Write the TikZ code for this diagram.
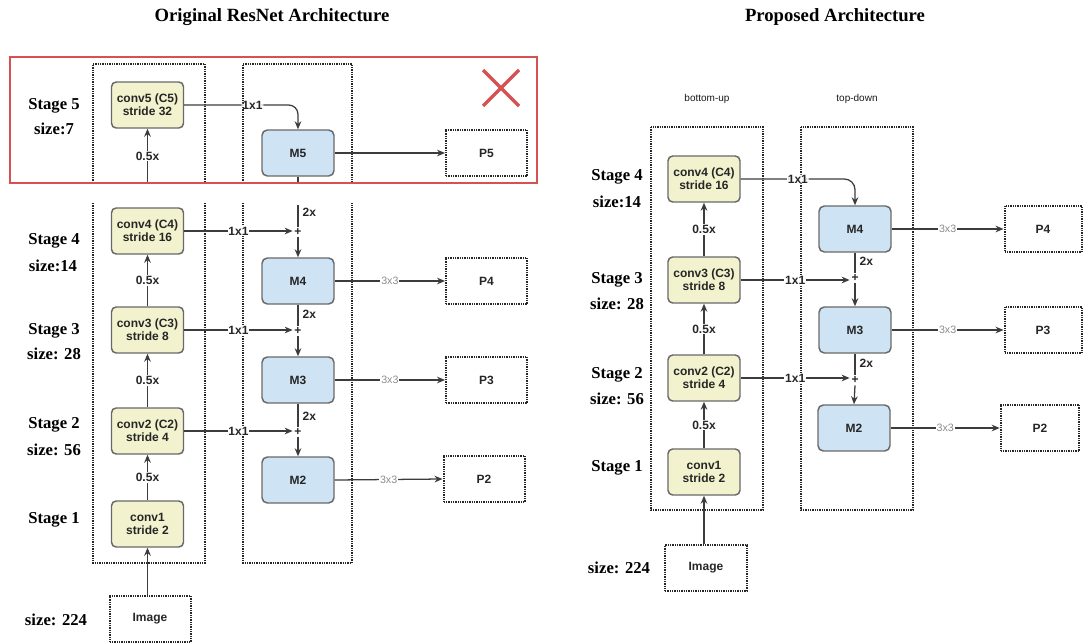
\documentclass[tikz,border=0pt]{standalone}
\usepackage{fontspec}
\setmainfont{Liberation Serif}
\setsansfont{Liberation Sans}
\usetikzlibrary{arrows.meta}
\definecolor{convfill}{RGB}{242,242,206}
\definecolor{mfill}{RGB}{206,227,244}
\definecolor{boxline}{RGB}{105,105,105}
\definecolor{wire}{RGB}{60,60,60}
\definecolor{crossred}{RGB}{214,82,82}
\definecolor{lightlbl}{RGB}{140,140,140}
\begin{document}
\begin{tikzpicture}[x=0.75pt,y=-0.75pt,
  conv/.style={draw=boxline, fill=convfill, rounded corners=3.5pt, line width=1.1pt,
    minimum width=54pt, minimum height=34.5pt, inner sep=1pt, align=center,
    font=\sffamily\bfseries\fontsize{9}{10}\selectfont, text=black!85},
  mbox/.style={draw=boxline, fill=mfill, rounded corners=4pt, line width=1.1pt,
    minimum width=54pt, minimum height=34.5pt, inner sep=1pt,
    font=\sffamily\bfseries\fontsize{9}{10}\selectfont, text=black!85},
  dotbox/.style={draw=black!85, line width=1.5pt, dash pattern=on 1pt off 0.75pt,
    minimum height=35pt, inner sep=1pt,
    font=\sffamily\bfseries\fontsize{9}{10}\selectfont, text=black!85},
  colbox/.style={draw=black!85, line width=1.5pt, dash pattern=on 1pt off 0.75pt},
  wirearrow/.style={draw=wire, line width=0.95pt, -{Stealth[length=6pt,width=5pt]}},
  plainwire/.style={draw=wire, line width=0.95pt},
  lbl/.style={fill=white, inner sep=0.6pt, text=black!85,
    font=\sffamily\bfseries\fontsize{9}{10}\selectfont},
  graylbl/.style={fill=white, inner sep=0.6pt, text=lightlbl,
    font=\sffamily\fontsize{8}{9}\selectfont},
  uplbl/.style={right, inner sep=3pt, text=black!85,
    font=\sffamily\bfseries\fontsize{9}{10}\selectfont},
  plus/.style={inner sep=1.2pt, text=black!85, font=\sffamily\bfseries\fontsize{9}{9}\selectfont},
  stagelbl/.style={font=\rmfamily\bfseries\fontsize{12.5}{14}\selectfont},
  sizelbl/.style={font=\rmfamily\bfseries\fontsize{12.5}{14}\selectfont},
  titlelbl/.style={font=\rmfamily\bfseries\fontsize{14}{16}\selectfont},
  headlbl/.style={font=\sffamily\fontsize{7.5}{9}\selectfont, text=black!90}
]
\useasboundingbox (0,0) rectangle (1083,643);

% ---------- titles ----------
\node[titlelbl] (t1) at (272,17) {Original ResNet Architecture};
\node[titlelbl] (t2) at (835,17) {Proposed Architecture};

% ================= left: original ResNet =================
% column frames, interrupted below the stage-5 band
\draw[colbox] (93,183) -- (93,64) -- (205,64) -- (205,183);
\draw[colbox] (93,203) -- (93,563) -- (205,563) -- (205,203);
\draw[colbox] (243,183) -- (243,64) -- (352,64) -- (352,183);
\draw[colbox] (243,203) -- (243,563) -- (352,563) -- (352,203);

% stage labels
\node[stagelbl] (ls5) at (54,106) {Stage 5};
\node[sizelbl]  (lz5) at (54,129) {size:7};
\node[stagelbl] (ls4) at (54,241) {Stage 4};
\node[sizelbl]  (lz4) at (53,266) {size:14};
\node[stagelbl] (ls3) at (54,331) {Stage 3};
\node[sizelbl]  (lz3) at (54,354) {size: 28};
\node[stagelbl] (ls2) at (54,425) {Stage 2};
\node[sizelbl]  (lz2) at (54,450) {size: 56};
\node[stagelbl] (ls1) at (54,520) {Stage 1};
\node[sizelbl]  (lz0) at (56,620) {size: 224};

% bottom-up blocks
\node[conv] (L5) at (147.5,105) {conv5 (C5)\\stride 32};
\node[conv] (L4) at (147.5,231) {conv4 (C4)\\stride 16};
\node[conv] (L3) at (147.5,330) {conv3 (C3)\\stride 8};
\node[conv] (L2) at (147.5,431) {conv2 (C2)\\stride 4};
\node[conv] (L1) at (147.5,524) {conv1\\stride 2};
\node[dotbox, minimum width=60.75pt] (Limg) at (150,619) {Image};

% top-down blocks
\node[mbox] (LM5) at (298,153) {M5};
\node[mbox] (LM4) at (298,281) {M4};
\node[mbox] (LM3) at (298,380) {M3};
\node[mbox] (LM2) at (298,480) {M2};
\node[plus] (Lp4) at (298,232) {+};
\node[plus] (Lp3) at (298,331) {+};
\node[plus] (Lp2) at (298,432) {+};

% outputs
\node[dotbox, minimum width=60.75pt] (LP5) at (486.5,153) {P5};
\node[dotbox, minimum width=60.75pt] (LP4) at (486.5,281) {P4};
\node[dotbox, minimum width=60.75pt] (LP3) at (486.5,380) {P3};
\node[dotbox, minimum width=60.75pt] (LP2) at (484,479) {P2};

% free ends at the band edges
\coordinate (Lcut5) at (147.5,183);
\coordinate (Lcutm) at (298,183);
\coordinate (Ltopm) at (298,205);

% bottom-up path
\draw[wirearrow] (Limg.north -| L1.south) -- (L1.south);
\draw[wirearrow] (L1.north) -- node[lbl] {0.5x} (L2.south);
\draw[wirearrow] (L2.north) -- node[lbl] {0.5x} (L3.south);
\draw[wirearrow] (L3.north) -- node[lbl] {0.5x} (L4.south);
\draw[wirearrow] (Lcut5) -- node[lbl] {0.5x} (L5.south);

% lateral 1x1 connections
\draw[wirearrow, rounded corners=7pt] (L5.east) -- node[lbl, pos=0.6] {1x1} (LM5.north |- L5.east) -- (LM5.north);
\draw[wirearrow] (L4.east) -- node[lbl] {1x1} (L4.east -| Lp4.west);
\draw[wirearrow] (L3.east) -- node[lbl] {1x1} (L3.east -| Lp3.west);
\draw[wirearrow] (L2.east) -- node[lbl] {1x1} (L2.east -| Lp2.west);

% top-down 2x upsampling
\draw[plainwire] (LM5.south) -- (Lcutm);
\draw[plainwire] (Ltopm) -- node[uplbl, pos=0.35] {2x} (Lp4.north);
\draw[wirearrow] (Lp4.south) -- (LM4.north);
\draw[plainwire] (LM4.south) -- node[uplbl, pos=0.45] {2x} (Lp3.north);
\draw[wirearrow] (Lp3.south) -- (LM3.north);
\draw[plainwire] (LM3.south) -- node[uplbl, pos=0.55] {2x} (Lp2.north);
\draw[wirearrow] (Lp2.south) -- (LM2.north);

% 3x3 output convolutions
\draw[wirearrow] (LM5.east) -- (LP5.west);
\draw[wirearrow] (LM4.east) -- node[graylbl] {3x3} (LP4.west);
\draw[wirearrow] (LM3.east) -- node[graylbl] {3x3} (LP3.west);
\draw[wirearrow] (LM2.east) -- node[graylbl] {3x3} (LP2.west);

% stage 5 is struck out
\draw[crossred, line width=1.6pt] (10,57) rectangle (537,183);
\draw[crossred, line width=2.4pt] (483,70) -- (519,106);
\draw[crossred, line width=2.4pt] (483,106) -- (519,70);

% ================= right: proposed =================
\node[headlbl] (hbu) at (707,99) {bottom-up};
\node[headlbl] (htd) at (857,99) {top-down};
\draw[colbox] (651,127) rectangle (763,510);
\draw[colbox] (801,127) rectangle (913,510);

\node[stagelbl] (rs4) at (617,177) {Stage 4};
\node[sizelbl]  (rz4) at (617,202) {size:14};
\node[stagelbl] (rs3) at (617,280) {Stage 3};
\node[sizelbl]  (rz3) at (617,304) {size: 28};
\node[stagelbl] (rs2) at (617,375) {Stage 2};
\node[sizelbl]  (rz2) at (617,399) {size: 56};
\node[stagelbl] (rs1) at (617,468) {Stage 1};
\node[sizelbl]  (rz0) at (619,568) {size: 224};

\node[conv] (R4) at (704,179) {conv4 (C4)\\stride 16};
\node[conv] (R3) at (704,280) {conv3 (C3)\\stride 8};
\node[conv] (R2) at (704,378) {conv2 (C2)\\stride 4};
\node[conv] (R1) at (704,472) {conv1\\stride 2};
\node[dotbox, minimum width=61.5pt, minimum height=34pt] (Rimg) at (706,568) {Image};

\node[mbox] (RM4) at (855,229) {M4};
\node[mbox] (RM3) at (855,330) {M3};
\node[mbox] (RM2) at (854,428) {M2};
\node[plus] (Rp3) at (855,278) {+};
\node[plus] (Rp2) at (855,380) {+};

\node[dotbox, minimum width=57.75pt] (RP4) at (1043,229) {P4};
\node[dotbox, minimum width=57.75pt] (RP3) at (1043,330) {P3};
\node[dotbox, minimum width=59pt] (RP2) at (1040,428) {P2};

\draw[wirearrow] (Rimg.north -| R1.south) -- (R1.south);
\draw[wirearrow] (R1.north) -- node[lbl] {0.5x} (R2.south);
\draw[wirearrow] (R2.north) -- node[lbl] {0.5x} (R3.south);
\draw[wirearrow] (R3.north) -- node[lbl] {0.5x} (R4.south);

\draw[wirearrow, rounded corners=8pt] (R4.east) -- node[lbl, pos=0.5] {1x1} (RM4.north |- R4.east) -- (RM4.north);
\draw[wirearrow] (R3.east) -- node[lbl] {1x1} (R3.east -| Rp3.west);
\draw[wirearrow] (R2.east) -- node[lbl] {1x1} (R2.east -| Rp2.west);

\draw[plainwire] (RM4.south) -- node[uplbl, pos=0.45] {2x} (Rp3.north);
\draw[wirearrow] (Rp3.south) -- (RM3.north);
\draw[plainwire] (RM3.south) -- node[uplbl, pos=0.45] {2x} (Rp2.north);
\draw[wirearrow] (Rp2.south) -- (RM2.north);

\draw[wirearrow] (RM4.east) -- node[graylbl] {3x3} (RP4.west);
\draw[wirearrow] (RM3.east) -- node[graylbl] {3x3} (RP3.west);
\draw[wirearrow] (RM2.east) -- node[graylbl] {3x3} (RP2.west);
\end{tikzpicture}
\end{document}
